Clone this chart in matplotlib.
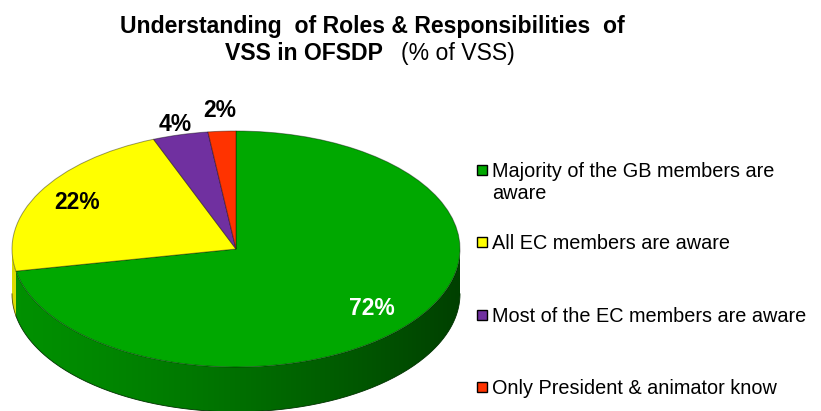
import numpy as np
import matplotlib
matplotlib.use('Agg')
import matplotlib.pyplot as plt
from matplotlib.patches import Rectangle, Polygon
import matplotlib.colors as mcolors

plt.rcParams['font.family'] = ['Liberation Sans', 'DejaVu Sans']

# ---- data ----
categories = ["Majority of the GB members are\naware",
              "All EC members are aware",
              "Most of the EC members are aware",
              "Only President & animator know"]
values = [72, 22, 4, 2]
colors = ["#00A800", "#FFFF00", "#7030A0", "#FF3300"]
label_colors = ["white", "black", "black", "black"]
label_dist = [0.79, 0.81, 1.09, 1.18]

W, H = 821, 411
fig = plt.figure(figsize=(W / 100, H / 100), dpi=100)

# pie geometry in pixels
cx, cy = 236, 249
rx, ry = 224, 118
depth = 0.38

ax = fig.add_axes([0, 0, 1, 1])

# ---- side wall (3D depth) ----
total = float(sum(values))
cum = 0.0
for v, c in zip(values, colors):
    a0 = 90 - cum / total * 360
    a1 = 90 - (cum + v) / total * 360
    cum += v
    for k in (-360, 0, 360):
        lo = max(a1 + k, -180)
        hi = min(a0 + k, 0)
        if hi <= lo:
            continue
        th = np.radians(np.linspace(lo, hi, 200))
        top = np.column_stack([np.cos(th), np.sin(th)])
        bot = np.column_stack([np.cos(th[::-1]), np.sin(th[::-1]) - depth])
        poly = Polygon(np.vstack([top, bot]), closed=True, facecolor='none',
                       edgecolor='none')
        ax.add_patch(poly)
        rgb = np.array(mcolors.to_rgb(c))
        xs = np.linspace(-1, 1, 400)
        u = (xs + 1) / 2
        f = 0.86 - 0.48 * u ** 1.3
        img = (rgb[None, :] * f[:, None])[None, :, :]
        im = ax.imshow(img, extent=(-1, 1, -1 - depth, 0.05), aspect='auto',
                       interpolation='bilinear', zorder=1)
        im.set_clip_path(poly)
        ax.plot(np.cos(th), np.sin(th) - depth, color=tuple(rgb * 0.3),
                lw=0.6, zorder=1.5)

# ---- top face ----
wedges, texts, autotexts = ax.pie(
    values, colors=colors, startangle=90, counterclock=False,
    radius=1, center=(0, 0), autopct=lambda p: f"{p:.0f}%",
    pctdistance=0.8,
    wedgeprops=dict(edgecolor=(0, 0, 0, 0.4), linewidth=0.7),
    textprops=dict(fontsize=16.5, fontweight='bold'))

for w, t, d, tc in zip(wedges, autotexts, label_dist, label_colors):
    w.set_zorder(2)
    mid = np.radians((w.theta1 + w.theta2) / 2)
    t.set_position((d * np.cos(mid), d * np.sin(mid)))
    t.set_color(tc)
    t.set_zorder(5)

ax.set_aspect('auto')
ax.set_xlim(-cx / rx, (W - cx) / rx)
ax.set_ylim(-(H - cy) / ry, cy / ry)
ax.axis('off')

# ---- overlay axes in pixel coords for title & legend ----
ov = fig.add_axes([0, 0, 1, 1], facecolor='none')
ov.set_xlim(0, W)
ov.set_ylim(H, 0)
ov.axis('off')

ov.text(372, 33, "Understanding  of Roles & Responsibilities  of",
        ha='center', va='baseline', fontsize=16.6, fontweight='bold')
ov.text(383, 60, "VSS in OFSDP", ha='right', va='baseline',
        fontsize=16.6, fontweight='bold')
ov.text(401, 60, "(% of VSS)", ha='left', va='baseline', fontsize=16.6)

leg_y = [170, 242, 315, 387]
line_h = 22
for lab, c, y in zip(categories, colors, leg_y):
    ov.add_patch(Rectangle((477, y - 5), 10, 10, facecolor=c,
                           edgecolor='black', lw=1.0))
    nlines = lab.count("\n") + 1
    for i, line in enumerate(lab.split("\n")):
        ov.text(492, y + 7 + i * line_h, line, ha='left', va='baseline',
                fontsize=14.3)

fig.savefig("out.png", dpi=100)
